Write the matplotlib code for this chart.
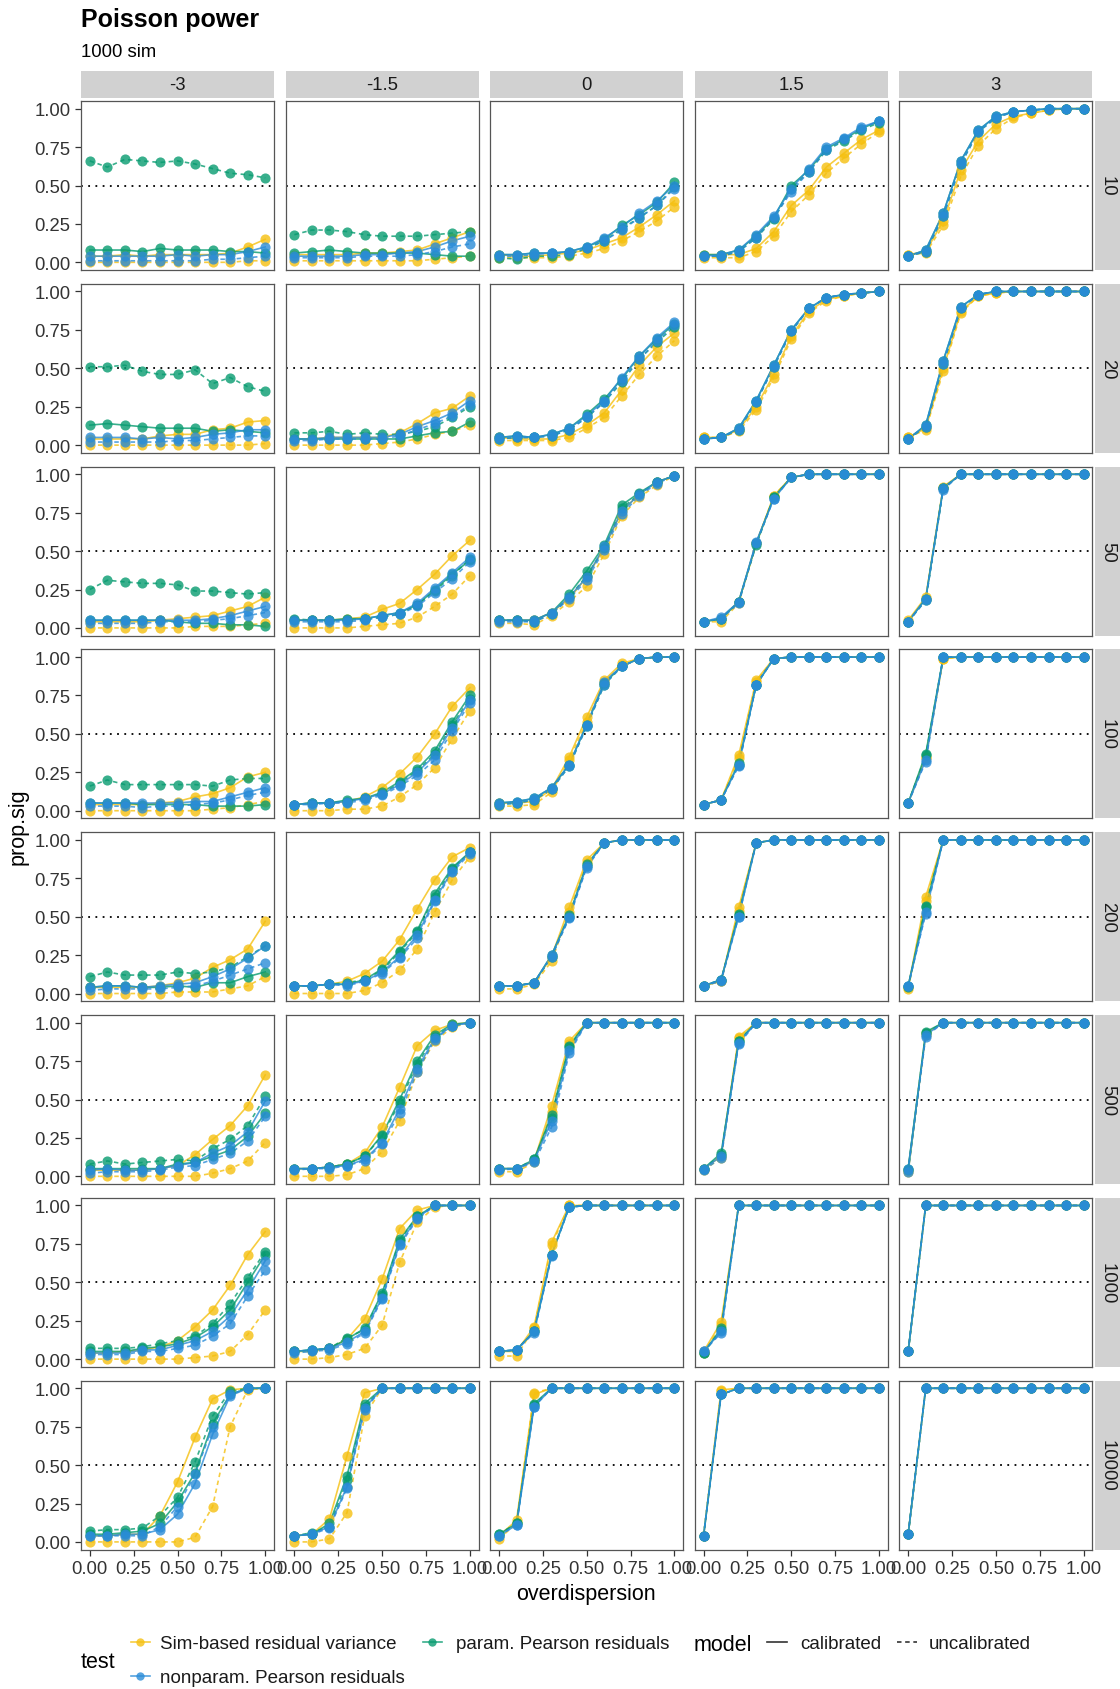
"""Poisson power: proportion of significant tests vs overdispersion,
faceted by effect size (columns) and sample size (rows)."""

import matplotlib
matplotlib.use("Agg")
import matplotlib.pyplot as plt

plt.rcParams["font.family"] = ["Liberation Sans", "DejaVu Sans"]

OVERDISPERSION = [0.0, 0.1, 0.2, 0.3, 0.4, 0.5, 0.6, 0.7, 0.8, 0.9, 1.0]
EFFECTS = ["-3", "-1.5", "0", "1.5", "3"]
SAMPLE_SIZES = ["10", "20", "50", "100", "200", "500", "1000", "10000"]
TESTS = ["Sim-based residual variance", "param. Pearson residuals",
         "nonparam. Pearson residuals"]
MODELS = ["calibrated", "uncalibrated"]

# prop.sig per sample size row, one list per effect column
SIM_CAL = [
    [[.04, .04, .05, .04, .05, .05, .05, .05, .06, .10, .15],
     [.05, .05, .05, .05, .06, .06, .07, .08, .12, .16, .20],
     [.05, .04, .04, .05, .06, .08, .12, .16, .23, .31, .40],
     [.05, .05, .05, .09, .20, .37, .47, .62, .71, .80, .86],
     [.05, .07, .27, .60, .79, .90, .95, .97, .99, 1, 1]],
    [[.04, .04, .04, .04, .06, .07, .07, .10, .11, .15, .16],
     [.04, .04, .05, .05, .05, .05, .08, .14, .21, .24, .32],
     [.05, .04, .04, .04, .07, .13, .21, .36, .52, .64, .73],
     [.05, .05, .10, .25, .46, .71, .87, .95, .97, .99, 1],
     [.05, .11, .50, .87, .97, .99, 1, 1, 1, 1, 1]],
    [[.04, .04, .04, .04, .05, .06, .07, .08, .11, .14, .20],
     [.05, .05, .05, .06, .07, .12, .16, .25, .35, .47, .57],
     [.05, .05, .05, .10, .19, .33, .52, .76, .87, .95, .99],
     [.04, .06, .17, .55, .86, .98, 1, 1, 1, 1, 1],
     [.05, .20, .92, 1, 1, 1, 1, 1, 1, 1, 1]],
    [[.04, .04, .04, .04, .05, .06, .09, .11, .15, .22, .25],
     [.04, .05, .05, .06, .09, .15, .24, .35, .50, .68, .80],
     [.05, .05, .06, .14, .35, .61, .85, .96, .99, 1, 1],
     [.04, .07, .36, .85, .99, 1, 1, 1, 1, 1, 1],
     [.05, .35, .99, 1, 1, 1, 1, 1, 1, 1, 1]],
    [[.04, .04, .04, .04, .05, .07, .10, .17, .22, .29, .47],
     [.05, .05, .06, .08, .13, .21, .35, .55, .74, .89, .95],
     [.05, .05, .07, .24, .56, .87, .98, 1, 1, 1, 1],
     [.05, .08, .56, .98, 1, 1, 1, 1, 1, 1, 1],
     [.04, .63, 1, 1, 1, 1, 1, 1, 1, 1, 1]],
    [[.04, .04, .04, .04, .05, .07, .14, .24, .33, .46, .66],
     [.05, .05, .06, .08, .15, .32, .58, .85, .95, .99, 1],
     [.05, .05, .10, .46, .88, 1, 1, 1, 1, 1, 1],
     [.05, .13, .91, 1, 1, 1, 1, 1, 1, 1, 1],
     [.04, .93, 1, 1, 1, 1, 1, 1, 1, 1, 1]],
    [[.04, .04, .05, .06, .08, .12, .21, .32, .48, .68, .83],
     [.05, .05, .07, .13, .26, .52, .85, .97, 1, 1, 1],
     [.05, .05, .21, .76, 1, 1, 1, 1, 1, 1, 1],
     [.05, .24, 1, 1, 1, 1, 1, 1, 1, 1, 1],
     [.05, 1, 1, 1, 1, 1, 1, 1, 1, 1, 1]],
    [[.04, .04, .05, .05, .17, .39, .68, .93, .99, 1, 1],
     [.04, .05, .15, .56, .97, 1, 1, 1, 1, 1, 1],
     [.04, .14, .96, 1, 1, 1, 1, 1, 1, 1, 1],
     [.04, .99, 1, 1, 1, 1, 1, 1, 1, 1, 1],
     [.05, 1, 1, 1, 1, 1, 1, 1, 1, 1, 1]],
]

SIM_UNC = [
    [[0, 0, 0, 0, 0, 0, 0, 0, 0, .01, .01],
     [.01, .01, .01, .01, .01, .01, .01, .01, .02, .03, .04],
     [.03, .03, .03, .03, .04, .06, .09, .14, .20, .27, .36],
     [.03, .03, .03, .07, .17, .33, .44, .58, .68, .77, .85],
     [.05, .06, .24, .56, .76, .87, .94, .97, .99, 1, 1]],
    [[0, 0, 0, 0, 0, 0, 0, 0, 0, 0, .01],
     [0, 0, 0, 0, 0, .01, .02, .04, .07, .09, .13],
     [.03, .03, .03, .03, .05, .11, .18, .32, .46, .58, .68],
     [.05, .05, .09, .23, .44, .69, .86, .94, .97, .99, 1],
     [.05, .10, .48, .86, .97, .99, 1, 1, 1, 1, 1]],
    [[0, 0, 0, 0, 0, 0, .01, .01, .01, .02, .03],
     [0, 0, 0, 0, .01, .02, .03, .07, .14, .22, .34],
     [.03, .03, .02, .08, .17, .27, .48, .73, .85, .93, .99],
     [.04, .04, .16, .55, .86, .98, 1, 1, 1, 1, 1],
     [.04, .19, .91, 1, 1, 1, 1, 1, 1, 1, 1]],
    [[0, 0, 0, 0, 0, 0, 0, .01, .02, .04, .06],
     [0, 0, 0, .01, .01, .03, .09, .17, .28, .47, .65],
     [.03, .03, .04, .12, .33, .58, .83, .95, .99, 1, 1],
     [.04, .07, .34, .84, .99, 1, 1, 1, 1, 1, 1],
     [.05, .34, .99, 1, 1, 1, 1, 1, 1, 1, 1]],
    [[0, 0, 0, 0, 0, .01, .01, .01, .03, .05, .11],
     [0, 0, 0, 0, .02, .07, .15, .29, .53, .74, .89],
     [.03, .03, .06, .21, .53, .85, .98, 1, 1, 1, 1],
     [.05, .08, .54, .98, 1, 1, 1, 1, 1, 1, 1],
     [.03, .60, 1, 1, 1, 1, 1, 1, 1, 1, 1]],
    [[0, 0, 0, 0, 0, 0, 0, .02, .05, .10, .22],
     [0, 0, 0, .01, .05, .16, .36, .68, .88, .97, 1],
     [.03, .03, .09, .42, .86, 1, 1, 1, 1, 1, 1],
     [.04, .12, .90, 1, 1, 1, 1, 1, 1, 1, 1],
     [.03, .92, 1, 1, 1, 1, 1, 1, 1, 1, 1]],
    [[0, 0, 0, 0, 0, 0, .01, .02, .05, .16, .32],
     [0, 0, .01, .03, .07, .22, .63, .89, .99, 1, 1],
     [.02, .02, .20, .74, 1, 1, 1, 1, 1, 1, 1],
     [.04, .22, 1, 1, 1, 1, 1, 1, 1, 1, 1],
     [.05, 1, 1, 1, 1, 1, 1, 1, 1, 1, 1]],
    [[0, 0, 0, 0, 0, 0, .03, .23, .75, .99, 1],
     [0, 0, .02, .19, .82, 1, 1, 1, 1, 1, 1],
     [.02, .12, .97, 1, 1, 1, 1, 1, 1, 1, 1],
     [.04, .98, 1, 1, 1, 1, 1, 1, 1, 1, 1],
     [.05, 1, 1, 1, 1, 1, 1, 1, 1, 1, 1]],
]

PAR_CAL = [
    [[.08, .08, .08, .07, .09, .08, .08, .08, .07, .07, .06],
     [.06, .07, .08, .07, .06, .06, .06, .06, .05, .04, .04],
     [.05, .05, .06, .06, .07, .10, .15, .24, .31, .39, .52],
     [.05, .05, .08, .17, .29, .50, .60, .74, .80, .87, .92],
     [.04, .08, .32, .66, .86, .95, .98, .99, 1, 1, 1]],
    [[.13, .14, .13, .12, .11, .11, .11, .09, .10, .09, .08],
     [.04, .04, .04, .04, .04, .04, .04, .06, .08, .09, .15],
     [.05, .06, .05, .07, .11, .20, .30, .43, .58, .69, .79],
     [.04, .05, .11, .29, .52, .75, .89, .96, .98, .99, 1],
     [.04, .13, .55, .90, .98, 1, 1, 1, 1, 1, 1]],
    [[.05, .05, .05, .05, .05, .04, .03, .03, .02, .02, .01],
     [.05, .05, .05, .06, .06, .08, .10, .15, .25, .35, .44],
     [.05, .05, .05, .10, .22, .37, .54, .80, .88, .95, .99],
     [.04, .06, .17, .55, .85, .98, 1, 1, 1, 1, 1],
     [.04, .19, .91, 1, 1, 1, 1, 1, 1, 1, 1]],
    [[.05, .05, .05, .04, .04, .04, .04, .03, .03, .03, .04],
     [.04, .05, .05, .07, .08, .12, .19, .27, .39, .58, .75],
     [.05, .06, .08, .15, .30, .56, .83, .94, .99, 1, 1],
     [.04, .07, .31, .82, .99, 1, 1, 1, 1, 1, 1],
     [.05, .37, 1, 1, 1, 1, 1, 1, 1, 1, 1]],
    [[.04, .05, .05, .04, .04, .05, .04, .07, .07, .11, .14],
     [.05, .05, .06, .06, .09, .16, .28, .41, .65, .82, .92],
     [.05, .05, .07, .25, .51, .84, .98, 1, 1, 1, 1],
     [.05, .09, .52, .98, 1, 1, 1, 1, 1, 1, 1],
     [.05, .57, 1, 1, 1, 1, 1, 1, 1, 1, 1]],
    [[.05, .05, .05, .05, .05, .08, .09, .13, .17, .26, .41],
     [.05, .05, .06, .08, .13, .27, .50, .75, .92, .99, 1],
     [.05, .05, .11, .40, .85, 1, 1, 1, 1, 1, 1],
     [.05, .15, .88, 1, 1, 1, 1, 1, 1, 1, 1],
     [.05, .94, 1, 1, 1, 1, 1, 1, 1, 1, 1]],
    [[.05, .05, .05, .07, .08, .10, .14, .21, .32, .50, .68],
     [.05, .06, .07, .13, .20, .43, .78, .93, 1, 1, 1],
     [.05, .06, .18, .68, .99, 1, 1, 1, 1, 1, 1],
     [.04, .20, 1, 1, 1, 1, 1, 1, 1, 1, 1],
     [.05, 1, 1, 1, 1, 1, 1, 1, 1, 1, 1]],
    [[.05, .05, .06, .07, .12, .26, .45, .77, .96, 1, 1],
     [.04, .05, .12, .43, .90, 1, 1, 1, 1, 1, 1],
     [.05, .12, .90, 1, 1, 1, 1, 1, 1, 1, 1],
     [.04, .96, 1, 1, 1, 1, 1, 1, 1, 1, 1],
     [.05, 1, 1, 1, 1, 1, 1, 1, 1, 1, 1]],
]

PAR_UNC = [
    [[.66, .62, .67, .66, .65, .66, .64, .61, .58, .57, .55],
     [.18, .21, .21, .20, .18, .17, .17, .17, .18, .19, .20],
     [.03, .02, .04, .04, .05, .09, .14, .22, .29, .37, .49],
     [.04, .04, .07, .16, .28, .48, .59, .73, .79, .86, .91],
     [.04, .07, .30, .64, .85, .94, .98, .99, 1, 1, 1]],
    [[.51, .51, .52, .48, .46, .46, .49, .40, .44, .38, .35],
     [.08, .08, .09, .07, .08, .07, .07, .09, .12, .18, .25],
     [.04, .05, .05, .06, .10, .18, .28, .41, .56, .67, .77],
     [.04, .05, .10, .28, .51, .74, .89, .96, .98, .99, 1],
     [.04, .12, .53, .89, .98, 1, 1, 1, 1, 1, 1]],
    [[.25, .31, .30, .29, .29, .28, .24, .24, .23, .22, .23],
     [.06, .05, .05, .05, .06, .07, .09, .15, .24, .34, .45],
     [.05, .05, .04, .09, .20, .34, .52, .78, .87, .95, .99],
     [.04, .06, .17, .54, .85, .98, 1, 1, 1, 1, 1],
     [.04, .18, .91, 1, 1, 1, 1, 1, 1, 1, 1]],
    [[.16, .20, .17, .17, .17, .17, .17, .16, .20, .21, .21],
     [.04, .05, .05, .06, .08, .11, .18, .26, .37, .56, .73],
     [.04, .05, .07, .14, .29, .55, .82, .94, .99, 1, 1],
     [.04, .07, .30, .82, .99, 1, 1, 1, 1, 1, 1],
     [.05, .36, 1, 1, 1, 1, 1, 1, 1, 1, 1]],
    [[.11, .14, .12, .12, .12, .14, .13, .14, .17, .24, .31],
     [.05, .05, .06, .07, .09, .15, .27, .40, .63, .81, .92],
     [.05, .05, .07, .24, .50, .83, .98, 1, 1, 1, 1],
     [.05, .09, .51, .98, 1, 1, 1, 1, 1, 1, 1],
     [.04, .56, 1, 1, 1, 1, 1, 1, 1, 1, 1]],
    [[.08, .10, .08, .09, .10, .11, .10, .18, .24, .33, .52],
     [.05, .05, .06, .08, .13, .26, .48, .73, .91, .98, 1],
     [.05, .05, .11, .38, .84, 1, 1, 1, 1, 1, 1],
     [.05, .14, .88, 1, 1, 1, 1, 1, 1, 1, 1],
     [.04, .93, 1, 1, 1, 1, 1, 1, 1, 1, 1]],
    [[.07, .07, .07, .08, .10, .12, .15, .23, .36, .53, .70],
     [.05, .06, .07, .14, .19, .42, .77, .93, 1, 1, 1],
     [.05, .06, .18, .68, .99, 1, 1, 1, 1, 1, 1],
     [.04, .19, 1, 1, 1, 1, 1, 1, 1, 1, 1],
     [.05, 1, 1, 1, 1, 1, 1, 1, 1, 1, 1]],
    [[.07, .08, .08, .09, .17, .29, .52, .82, .98, 1, 1],
     [.04, .06, .10, .40, .88, 1, 1, 1, 1, 1, 1],
     [.05, .12, .89, 1, 1, 1, 1, 1, 1, 1, 1],
     [.04, .96, 1, 1, 1, 1, 1, 1, 1, 1, 1],
     [.05, 1, 1, 1, 1, 1, 1, 1, 1, 1, 1]],
]

NP_CAL = [
    [[.04, .04, .04, .04, .04, .05, .04, .05, .05, .07, .10],
     [.04, .04, .04, .04, .05, .05, .06, .07, .10, .14, .17],
     [.05, .05, .06, .06, .07, .10, .16, .23, .32, .40, .50],
     [.04, .05, .08, .18, .30, .48, .61, .75, .81, .88, .92],
     [.04, .08, .32, .66, .86, .95, .98, .99, 1, 1, 1]],
    [[.05, .05, .05, .04, .05, .04, .05, .07, .08, .10, .10],
     [.04, .04, .05, .05, .05, .05, .07, .12, .16, .21, .29],
     [.05, .06, .05, .07, .11, .19, .29, .44, .58, .70, .80],
     [.04, .05, .11, .29, .52, .75, .89, .96, .98, .99, 1],
     [.04, .13, .55, .90, .98, 1, 1, 1, 1, 1, 1]],
    [[.05, .05, .05, .05, .05, .05, .05, .06, .08, .11, .14],
     [.05, .05, .05, .05, .06, .08, .10, .16, .26, .36, .46],
     [.05, .05, .05, .10, .20, .33, .53, .76, .87, .95, .99],
     [.04, .07, .17, .56, .84, .98, 1, 1, 1, 1, 1],
     [.04, .19, .91, 1, 1, 1, 1, 1, 1, 1, 1]],
    [[.05, .05, .05, .05, .05, .05, .06, .06, .09, .12, .15],
     [.04, .05, .05, .06, .08, .11, .17, .25, .36, .54, .72],
     [.05, .06, .08, .15, .30, .56, .84, .94, .99, 1, 1],
     [.04, .07, .30, .82, .99, 1, 1, 1, 1, 1, 1],
     [.05, .33, 1, 1, 1, 1, 1, 1, 1, 1, 1]],
    [[.04, .05, .05, .04, .05, .06, .07, .11, .16, .23, .31],
     [.05, .05, .06, .06, .08, .14, .24, .38, .61, .80, .92],
     [.05, .05, .07, .25, .50, .83, .98, 1, 1, 1, 1],
     [.05, .09, .50, .98, 1, 1, 1, 1, 1, 1, 1],
     [.05, .53, 1, 1, 1, 1, 1, 1, 1, 1, 1]],
    [[.04, .05, .04, .04, .05, .07, .09, .15, .20, .29, .49],
     [.05, .05, .06, .07, .11, .22, .44, .70, .90, .98, 1],
     [.05, .05, .10, .36, .82, 1, 1, 1, 1, 1, 1],
     [.05, .13, .87, 1, 1, 1, 1, 1, 1, 1, 1],
     [.05, .92, 1, 1, 1, 1, 1, 1, 1, 1, 1]],
    [[.04, .04, .04, .06, .06, .09, .12, .18, .28, .45, .64],
     [.05, .06, .07, .11, .18, .40, .75, .92, 1, 1, 1],
     [.05, .06, .18, .68, .99, 1, 1, 1, 1, 1, 1],
     [.05, .18, 1, 1, 1, 1, 1, 1, 1, 1, 1],
     [.05, 1, 1, 1, 1, 1, 1, 1, 1, 1, 1]],
    [[.04, .04, .05, .05, .08, .18, .38, .70, .95, 1, 1],
     [.04, .05, .10, .36, .87, 1, 1, 1, 1, 1, 1],
     [.04, .11, .88, 1, 1, 1, 1, 1, 1, 1, 1],
     [.04, .96, 1, 1, 1, 1, 1, 1, 1, 1, 1],
     [.05, 1, 1, 1, 1, 1, 1, 1, 1, 1, 1]],
]

NP_UNC = [
    [[.01, .01, .01, .01, .01, .01, .01, .02, .02, .03, .04],
     [.03, .03, .03, .03, .04, .04, .04, .05, .07, .10, .12],
     [.04, .04, .05, .06, .06, .09, .14, .21, .29, .37, .48],
     [.04, .04, .07, .16, .29, .46, .59, .73, .80, .87, .92],
     [.04, .07, .30, .64, .85, .94, .98, .99, 1, 1, 1]],
    [[.02, .02, .02, .02, .02, .03, .03, .04, .05, .06, .06],
     [.03, .03, .04, .04, .04, .04, .06, .10, .14, .19, .26],
     [.04, .05, .05, .06, .10, .18, .28, .42, .56, .68, .78],
     [.04, .05, .10, .28, .51, .74, .89, .96, .98, .99, 1],
     [.04, .12, .53, .89, .98, 1, 1, 1, 1, 1, 1]],
    [[.03, .03, .03, .03, .04, .04, .04, .05, .06, .08, .10],
     [.04, .04, .04, .04, .05, .07, .09, .14, .23, .32, .43],
     [.04, .04, .04, .09, .19, .31, .51, .74, .86, .94, .99],
     [.04, .06, .16, .55, .84, .98, 1, 1, 1, 1, 1],
     [.04, .18, .90, 1, 1, 1, 1, 1, 1, 1, 1]],
    [[.03, .03, .03, .02, .03, .03, .04, .05, .07, .10, .12],
     [.04, .04, .05, .05, .07, .10, .16, .23, .33, .52, .70],
     [.04, .05, .07, .14, .29, .55, .82, .94, .99, 1, 1],
     [.04, .07, .29, .82, .99, 1, 1, 1, 1, 1, 1],
     [.05, .32, 1, 1, 1, 1, 1, 1, 1, 1, 1]],
    [[.02, .03, .03, .03, .03, .04, .05, .08, .12, .16, .20],
     [.05, .05, .06, .05, .08, .13, .23, .36, .60, .79, .91],
     [.05, .05, .07, .24, .49, .82, .98, 1, 1, 1, 1],
     [.05, .08, .50, .98, 1, 1, 1, 1, 1, 1, 1],
     [.05, .52, 1, 1, 1, 1, 1, 1, 1, 1, 1]],
    [[.02, .03, .03, .03, .04, .06, .07, .11, .15, .23, .39],
     [.04, .05, .05, .07, .10, .21, .41, .68, .89, .98, 1],
     [.04, .05, .09, .32, .80, 1, 1, 1, 1, 1, 1],
     [.04, .12, .86, 1, 1, 1, 1, 1, 1, 1, 1],
     [.03, .91, 1, 1, 1, 1, 1, 1, 1, 1, 1]],
    [[.03, .03, .03, .05, .05, .07, .09, .15, .23, .41, .58],
     [.04, .05, .06, .10, .17, .39, .74, .91, 1, 1, 1],
     [.05, .06, .17, .67, .99, 1, 1, 1, 1, 1, 1],
     [.05, .17, 1, 1, 1, 1, 1, 1, 1, 1, 1],
     [.05, 1, 1, 1, 1, 1, 1, 1, 1, 1, 1]],
    [[.04, .04, .04, .04, .10, .23, .44, .75, .96, 1, 1],
     [.04, .05, .09, .35, .86, 1, 1, 1, 1, 1, 1],
     [.04, .11, .88, 1, 1, 1, 1, 1, 1, 1, 1],
     [.04, .96, 1, 1, 1, 1, 1, 1, 1, 1, 1],
     [.05, 1, 1, 1, 1, 1, 1, 1, 1, 1, 1]],
]

COLORS = {"Sim-based residual variance": "#F5C010",
          "param. Pearson residuals": "#079B70",
          "nonparam. Pearson residuals": "#2A8CD8"}
DASH = {"calibrated": "-", "uncalibrated": (0, (2.7, 2.2))}
ALPHA = 0.8

# drawing order: yellow first, blue last
SERIES = [
    (TESTS[0], {"calibrated": SIM_CAL, "uncalibrated": SIM_UNC}),
    (TESTS[1], {"calibrated": PAR_CAL, "uncalibrated": PAR_UNC}),
    (TESTS[2], {"calibrated": NP_CAL, "uncalibrated": NP_UNC}),
]

W, H = 1120, 1690
LEFT, TOP = 81, 102
PW, PH = 193, 169
DX, DY = 204.6, 182.8
STRIP = "#D1D1D1"
TXT = "#1A1A1A"


def px_box(left, top, width, height):
    return [left / W, 1 - (top + height) / H, width / W, height / H]


fig = plt.figure(figsize=(W / 100, H / 100), dpi=100)

ticks = [0, 0.25, 0.5, 0.75, 1.0]
ticklabels = ["0.00", "0.25", "0.50", "0.75", "1.00"]

for r, n in enumerate(SAMPLE_SIZES):
    for c, eff in enumerate(EFFECTS):
        left = LEFT + c * DX
        top = TOP + r * DY
        ax = fig.add_axes(px_box(left, top, PW, PH))
        ax.set_xlim(-0.05, 1.05)
        ax.set_ylim(-0.05, 1.05)
        ax.axhline(0.5, color="black", lw=1.3, ls=(0, (1, 3)), zorder=1)

        for test, by_model in SERIES:
            for model in MODELS:
                ax.plot(OVERDISPERSION, by_model[model][r][c],
                        color=COLORS[test], ls=DASH[model], lw=1.2,
                        alpha=ALPHA, zorder=2)
        for test, by_model in SERIES:
            for model in MODELS:
                ax.plot(OVERDISPERSION, by_model[model][r][c], "o",
                        color=COLORS[test], ms=7.3, mew=0,
                        alpha=ALPHA, zorder=3)

        for s in ax.spines.values():
            s.set_color("#555555")
            s.set_linewidth(0.9)
        ax.set_xticks(ticks)
        ax.set_yticks(ticks)
        ax.tick_params(length=4.5, width=0.9, color="#333333",
                       labelsize=13.3, labelcolor="#333333", pad=3)
        if c == 0:
            ax.set_yticklabels(ticklabels)
        else:
            ax.tick_params(left=False, labelleft=False)
        if r == len(SAMPLE_SIZES) - 1:
            ax.set_xticklabels(ticklabels)
        else:
            ax.tick_params(bottom=False, labelbottom=False)

        if r == 0:
            sa = fig.add_axes(px_box(left, 72, PW, 27))
            sa.set_facecolor(STRIP)
            sa.set_xticks([])
            sa.set_yticks([])
            for s in sa.spines.values():
                s.set_visible(False)
            sa.text(0.5, 0.5, eff, ha="center", va="center",
                    fontsize=13.3, color=TXT, transform=sa.transAxes)
        if c == len(EFFECTS) - 1:
            sa = fig.add_axes(px_box(1094.5, top, 25.5, PH))
            sa.set_facecolor(STRIP)
            sa.set_xticks([])
            sa.set_yticks([])
            for s in sa.spines.values():
                s.set_visible(False)
            sa.text(0.5, 0.5, n, ha="center", va="center", rotation=270,
                    fontsize=13.3, color=TXT, transform=sa.transAxes)

# titles and axis labels
fig.text(LEFT / W, 1 - 27 / H, "Poisson power", fontsize=18,
         fontweight="bold", va="baseline", color="black")
fig.text(LEFT / W, 1 - 57 / H, "1000 sim", fontsize=13.3,
         va="baseline", color="black")
fig.text(586 / W, 1 - 1595 / H, "overdispersion", fontsize=15.5,
         ha="center", va="center", color="black")
fig.text(18 / W, 1 - 827 / H, "prop.sig", fontsize=15.5, rotation=90,
         ha="center", va="center", color="black")

# legend drawn in pixel coordinates
lg = fig.add_axes([0, 0, 1, 1])
lg.set_xlim(0, W)
lg.set_ylim(H, 0)
lg.axis("off")
lg.text(81, 1660, "test", fontsize=15.5, va="center_baseline")
for test, (kx, ky, tx) in zip(TESTS, [(140, 1643, 160), (432, 1643, 456),
                                      (140, 1677, 160)]):
    lg.plot([kx - 9.5, kx + 9.5], [ky, ky], color=COLORS[test], lw=1.2,
            alpha=ALPHA)
    lg.plot([kx], [ky], "o", color=COLORS[test], ms=6, mew=0, alpha=ALPHA)
    lg.text(tx, ky, test, fontsize=13.5, va="center_baseline", color=TXT)
lg.text(694, 1643, "model", fontsize=15.5, va="center_baseline")
for model, (kx, tx) in zip(MODELS, [(777, 800), (907, 929)]):
    lg.plot([kx - 10, kx + 10], [1643, 1643], color="#333333", lw=1.2,
            ls=DASH[model])
    lg.text(tx, 1643, model, fontsize=13.5, va="center_baseline", color=TXT)

fig.savefig("out.png", dpi=100)
